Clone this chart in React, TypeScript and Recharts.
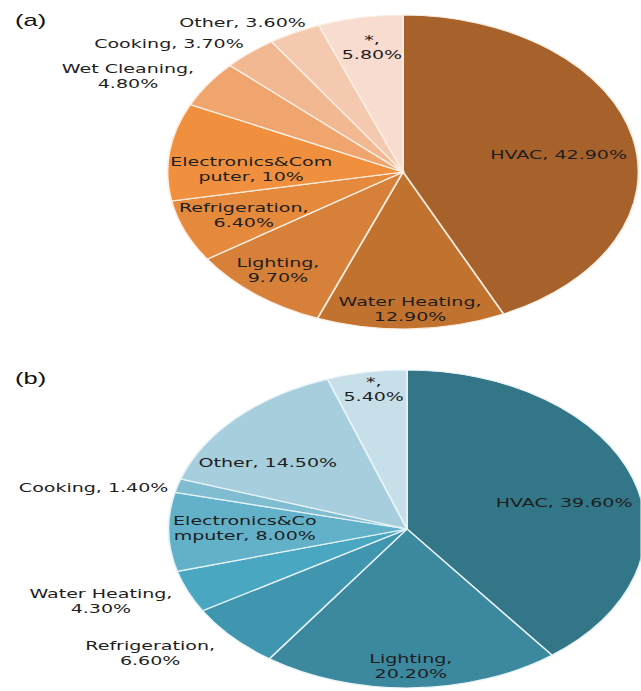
import { PieChart, Pie, Cell } from 'recharts';

// (a) residential end-use shares
const categoriesA = ['HVAC', 'Water Heating', 'Lighting', 'Refrigeration', 'Electronics&Computer', 'Wet Cleaning', 'Cooking', 'Other', '*'];
const sharesA = [42.9, 12.9, 9.7, 6.4, 10, 4.8, 3.7, 3.6, 5.8];
const labelsA = [
  ['HVAC, 42.90%'],
  ['Water Heating,', '12.90%'],
  ['Lighting,', '9.70%'],
  ['Refrigeration,', '6.40%'],
  ['Electronics&Com', 'puter, 10%'],
  ['Wet Cleaning,', '4.80%'],
  ['Cooking, 3.70%'],
  ['Other, 3.60%'],
  ['*,', '5.80%'],
];

// (b) commercial end-use shares
const categoriesB = ['HVAC', 'Lighting', 'Refrigeration', 'Water Heating', 'Electronics&Computer', 'Cooking', 'Other', '*'];
const sharesB = [39.6, 20.2, 6.6, 4.3, 8.0, 1.4, 14.5, 5.4];
const labelsB = [
  ['HVAC, 39.60%'],
  ['Lighting,', '20.20%'],
  ['Refrigeration,', '6.60%'],
  ['Water Heating,', '4.30%'],
  ['Electronics&Co', 'mputer, 8.00%'],
  ['Cooking, 1.40%'],
  ['Other, 14.50%'],
  ['*,', '5.40%'],
];

const COLORS_A = ['#a7622b', '#c2722f', '#d6803a', '#e5893c', '#f0903f', '#f0a56f', '#f2b892', '#f5c9b0', '#f8dccf'];
const COLORS_B = ['#337688', '#3c889e', '#4096af', '#49a7c1', '#62b1c9', '#80bdd1', '#a7cedc', '#c7dfe8'];

// label placement: radius factor and angle nudge (degrees, clockwise)
const radiusA = [0.67, 0.87, 0.82, 0.73, 0.645, 1.32, 1.29, 1.17, 0.81];
const nudgeA = [3.2, 0, 1.6, 0, -5.7, -6.3, -9.8, -8.2, 1.1];
const radiusB = [0.68, 0.86, 1.33, 1.36, 0.68, 1.34, 0.72, 0.89];
const nudgeB = [4.4, 0, 6.9, 3.9, 1.6, -4.5, -8.6, 0.7];

const dataA = categoriesA.map((name, i) => ({ name, value: sharesA[i] }));
const dataB = categoriesB.map((name, i) => ({ name, value: sharesB[i] }));

const SX = 1.5;
const W = 641 / SX;

const makeLabel = (lines: string[][], rf: number[], nudge: number[]) => (p: any) => {
  const i = p.index;
  const ang = ((p.midAngle - nudge[i]) * Math.PI) / 180;
  const r = p.outerRadius * rf[i];
  const x = p.cx + r * Math.cos(ang);
  const y = p.cy - r * Math.sin(ang);
  const ls = lines[i];
  return (
    <text
      key={`l-${i}`}
      x={x}
      y={y}
      textAnchor="middle"
      dominantBaseline="central"
      fontFamily="'DejaVu Sans', Verdana, sans-serif"
      fontSize={12.7}
      fill="#1e1e1e"
    >
      {ls.map((l, k) => (
        <tspan key={k} x={x} y={y + (k - (ls.length - 1) / 2) * 15} dominantBaseline="central">
          {l}
        </tspan>
      ))}
    </text>
  );
};

export default function App() {
  return (
    <div
      style={{
        position: 'absolute',
        left: 0,
        top: 0,
        width: W,
        height: 691,
        background: '#fff',
        transform: `scaleX(${SX})`,
        transformOrigin: '0 0',
        overflow: 'hidden',
      }}
    >
      <PieChart width={W} height={691} margin={{ top: 0, right: 0, bottom: 0, left: 0 }}>
        <Pie
          data={dataA}
          dataKey="value"
          cx={403 / SX}
          cy={172}
          outerRadius={157}
          startAngle={90}
          endAngle={-270}
          stroke="#fbeee2"
          strokeWidth={1.2}
          labelLine={false}
          label={makeLabel(labelsA, radiusA, nudgeA)}
          isAnimationActive={false}
        >
          {dataA.map((d, i) => (
            <Cell key={d.name} fill={COLORS_A[i]} />
          ))}
        </Pie>
        <Pie
          data={dataB}
          dataKey="value"
          cx={407 / SX}
          cy={529}
          outerRadius={159}
          startAngle={90}
          endAngle={-270}
          stroke="#e6f3f7"
          strokeWidth={1.2}
          labelLine={false}
          label={makeLabel(labelsB, radiusB, nudgeB)}
          isAnimationActive={false}
        >
          {dataB.map((d, i) => (
            <Cell key={d.name} fill={COLORS_B[i]} />
          ))}
        </Pie>
      </PieChart>
      <div style={{ position: 'absolute', left: 10, top: 11, fontFamily: "'Liberation Sans', Arial, sans-serif", fontSize: 17, color: '#111' }}>
        (a)
      </div>
      <div style={{ position: 'absolute', left: 10, top: 369, fontFamily: "'Liberation Sans', Arial, sans-serif", fontSize: 17, color: '#111' }}>
        (b)
      </div>
    </div>
  );
}
